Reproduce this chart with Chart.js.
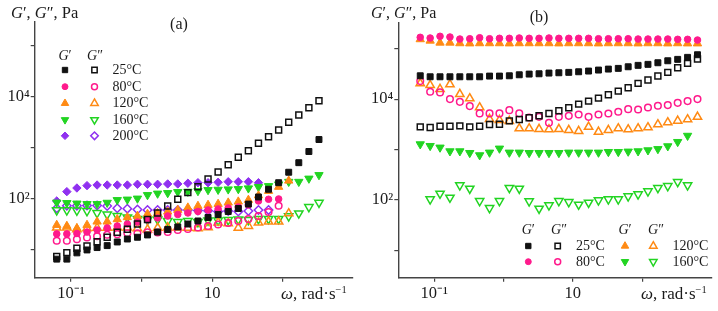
<!DOCTYPE html>
<html><head><meta charset="utf-8">
<script src="https://cdn.jsdelivr.net/npm/chart.js@4.4.1/dist/chart.umd.min.js"></script>
<style>
html,body{margin:0;padding:0;background:#fff;width:718px;height:311px;overflow:hidden;}
#wrap{position:relative;width:718px;height:311px;}
canvas{position:absolute;top:0;}
#ca{left:0;} #cb{left:359px;}
.t{position:absolute;font-family:"Liberation Serif","Times New Roman",serif;color:#1a1a1a;white-space:nowrap;line-height:1;transform:translate(0,-50%);}
.c{transform:translate(-50%,-50%);}
.lg{font-size:14px;}
sup{font-size:0.62em;vertical-align:0.5em;line-height:0;}
</style></head>
<body><div id="wrap">
<canvas id="ca" width="359" height="311"></canvas>
<canvas id="cb" width="359" height="311"></canvas>

<div class="t" style="left:11px;top:13px;font-size:16.5px"><i>G</i>′, <i>G</i>″, Pa</div>
<div class="t c" style="left:179px;top:24px;font-size:16px">(a)</div>
<div class="t" style="left:281px;top:293px;font-size:17px"><i>ω</i>, rad·s<sup>−1</sup></div>

<div class="t" style="left:371px;top:12.5px;font-size:16px"><i>G</i>′, <i>G</i>″, Pa</div>
<div class="t c" style="left:539px;top:17px;font-size:16px">(b)</div>
<div class="t" style="left:641px;top:293px;font-size:17px"><i>ω</i>, rad·s<sup>−1</sup></div>

<!-- legend (a) -->
<div class="t c lg" style="left:65px;top:55.5px"><i>G</i>′</div>
<div class="t c lg" style="left:95px;top:55.5px"><i>G</i>″</div>
<div class="t lg" style="left:112.5px;top:70px">25°C</div>
<div class="t lg" style="left:112.5px;top:86.7px">80°C</div>
<div class="t lg" style="left:112.5px;top:103.3px">120°C</div>
<div class="t lg" style="left:112.5px;top:119.8px">160°C</div>
<div class="t lg" style="left:112.5px;top:135.8px">200°C</div>

<!-- legend (b) -->
<div class="t c lg" style="left:528.3px;top:229.5px"><i>G</i>′</div>
<div class="t c lg" style="left:559px;top:229.5px"><i>G</i>″</div>
<div class="t c lg" style="left:625px;top:229.5px"><i>G</i>′</div>
<div class="t c lg" style="left:656px;top:229.5px"><i>G</i>″</div>
<div class="t lg" style="left:576px;top:246px">25°C</div>
<div class="t lg" style="left:576px;top:261.7px">80°C</div>
<div class="t lg" style="left:672.5px;top:246px">120°C</div>
<div class="t lg" style="left:672.5px;top:261.7px">160°C</div>
</div>
<script>
// ---------- DATA ----------
// angular frequency, rad/s (7 points per decade)
const OMEGA = [0.0628, 0.0873, 0.1212, 0.1685, 0.2341, 0.3253, 0.452, 0.628, 0.873, 1.212, 1.685, 2.341, 3.253, 4.52, 6.28, 8.73, 12.12, 16.85, 23.41, 32.53, 45.2, 62.8, 87.3, 121.2, 168.5, 234.1, 325.3, 452.0, 628.0];

// panel (a)
const A_G1_25  = [6.4, 6.4, 8.5, 9.7, 10.8, 11.8, 13.9, 15.9, 17.2, 19.1, 21.8, 24.4, 27.4, 31.3, 35.9, 42, 48, 55, 63, 77, 106, 150, 202, 324, 499, 827, 1420];
const A_G2_25  = [7.2, 8.6, 10.5, 11.6, 14.1, 17.2, 21.5, 24.7, 31.3, 38.4, 51.5, 70.6, 95.6, 129, 169, 239, 328, 456, 637, 858, 1200, 1610, 2190, 3090, 4300, 5980, 8200];
const A_G1_80  = [20, 20, 20.4, 21.8, 23.9, 26.2, 28.6, 31.3, 34.3, 37.5, 41.1, 45, 48.1, 51.5, 55.1, 59, 61.7, 64.5, 67.5, 73.9, 88.5, 95.6, 96.9];
const A_G2_80  = [14.7, 14.7, 15.7, 17, 18, 19.3, 19.8, 20.6, 20.6, 21.5, 21.3, 21.8, 23.9, 25, 26.7, 28.6, 30.6, 32.8, 35.9, 39.3, 45, 53.9, 71.6];
const A_G1_120 = [29.9, 28.6, 25.8, 29.9, 34.8, 34.8, 38.7, 42.4, 45, 49.2, 50.8, 54.6, 59, 65.5, 70.6, 73.9, 77.3, 82, 85.8, 92.6, 113.5, 139, 167, 221];
const A_G2_120 = [26.5, 26.5, 24.7, 25.6, 26.2, 26.2, 26.7, 26.7, 25.6, 24.4, 26.2, 26.7, 26.7, 26.2, 25.8, 27, 33.5, 32.1, 26.2, 28.6, 33.2, 34.8, 34.8, 50.4];
const A_G1_160 = [82.7, 80.9, 79.1, 77.3, 77.3, 82, 92.6, 94.7, 99.1, 116, 124, 127, 133, 135, 139, 145.5, 147.5, 150, 152, 157, 167, 174, 188, 211, 211, 244, 286];
const A_G2_160 = [58.2, 58.2, 57.6, 56.4, 51.5, 48.1, 45, 42, 39.3, 37.5, 38.4, 35.9, 34.3, 35.9, 34.3, 36.7, 36.7, 37.5, 38.4, 37.5, 39.3, 39.3, 39.3, 44.4, 50.8, 67.5, 82];
const A_G1_200 = [88.5, 135, 159, 177, 182, 182, 182, 182, 188, 188, 188, 191, 191, 197, 202, 202, 206, 211, 211, 211, 202];
const A_G2_200 = [63.7, 71.6, 71.6, 72.3, 72.3, 70.6, 63.7, 62.5, 60.3, 59, 59, 59, 59, 59, 57.6, 57.1, 55.1, 56.4, 55.1, 56.4, 59, 59];

// panel (b)
const B_G1_25  = [29040, 27750, 27750, 27750, 27750, 27750, 27750, 28650, 28650, 29040, 30410, 31400, 31840, 32880, 33340, 33960, 34910, 36060, 37740, 39470, 40740, 43870, 46790, 48980, 52720, 57700, 61520, 67450, 76000];
const B_G2_25  = [2814, 2737, 2904, 2904, 2944, 2814, 2904, 3141, 3184, 3704, 3948, 4249, 4656, 5197, 5852, 6716, 7955, 9125, 10470, 12170, 14430, 16780, 20510, 23870, 28650, 33960, 41880, 51290, 62400];
const B_G1_80  = [168600, 163300, 176500, 171000, 155900, 158100, 165500, 158100, 161000, 161000, 163300, 161000, 161000, 163300, 161000, 161000, 161000, 161000, 158100, 158100, 158100, 158100, 155900, 155900, 155900, 155900, 153800, 153800, 148900];
const B_G2_80  = [22800, 13960, 13590, 10000, 8830, 7260, 5200, 5200, 5200, 6040, 5200, 4325, 4446, 3380, 4446, 4656, 4966, 4446, 4966, 5197, 5596, 6324, 6237, 6840, 7360, 7600, 8440, 9125, 10000];
const B_G1_120 = [153800, 144200, 131600, 131600, 128000, 127000, 128000, 128000, 128000, 127000, 128000, 128000, 128000, 128000, 127000, 128000, 128000, 128000, 127000, 128000, 128000, 128000, 127000, 128000, 128000, 127000, 128000, 127000, 127000];
const B_G2_120 = [20510, 18970, 15810, 19590, 12570, 10320, 6840, 4000, 3828, 3654, 2614, 2614, 2535, 2500, 2535, 2420, 2311, 2814, 2239, 2420, 2614, 2500, 2614, 2737, 3141, 3443, 3704, 3948, 4446];
const B_G1_160 = [1274, 1180, 1096, 925, 925, 856, 771, 871, 1047, 871, 871, 856, 856, 856, 856, 871, 871, 871, 871, 896, 896, 912, 925, 968, 1023, 1164, 1416, 1880];
const B_G2_160 = [null, 102.8, 133.4, 111.1, 195, 167.5, 95.1, 69, 95.1, 172.5, 167.5, 93.8, 67.1, 78.1, 95.1, 90.8, 80.7, 88.3, 98.2, 102.8, 102.8, 118, 129.2, 148.3, 172.5, 188.8, 227, 195];

const Y_TICKS = [10, 100, 1000, 10000, 100000];
const Y_LABELS = {100: '10²', 10000: '10⁴'};
const X_TICKS = [0.1, 1, 10, 100];
const X_LABELS = {0.1: '10⁻¹', 10: '10'};
const TEMPS_A = ['25°C', '80°C', '120°C', '160°C', '200°C'];

// ---------- STYLE ----------
const STYLE = {
  '25°C':  {color: '#111111', shape: 'rect',     r: 4.2, rot: 0},
  '80°C':  {color: '#ff1a8c', shape: 'circle',   r: 3.3, rot: 0},
  '120°C': {color: '#ff8a14', shape: 'triangle', r: 4.8, rot: 0},
  '160°C': {color: '#22d422', shape: 'triangle', r: 4.8, rot: 180},
  '200°C': {color: '#9030f0', shape: 'rectRot',  r: 4.2, rot: 0}
};
const FONT = '"Liberation Serif", "Times New Roman", serif';

function pts(arr) {
  const out = [];
  arr.forEach((v, i) => { if (v !== null && v !== undefined) out.push({x: OMEGA[i], y: v}); });
  return out;
}
function ds(temp, arr, filled) {
  const s = STYLE[temp];
  return {
    label: temp + (filled ? " G'" : ' G"'), data: pts(arr), showLine: false,
    pointStyle: s.shape, pointRadius: s.r, pointRotation: s.rot,
    pointBackgroundColor: filled ? s.color : 'rgba(255,255,255,0)',
    pointBorderColor: s.color, pointBorderWidth: filled ? 1 : 1.5, pointHoverRadius: s.r
  };
}
function sym(ctx, temp, x, y, filled, scale) {
  const s = STYLE[temp]; const r = s.r * scale;
  ctx.save(); ctx.translate(x, y); if (s.rot) ctx.rotate(s.rot * Math.PI / 180);
  ctx.beginPath();
  if (s.shape === 'rect') { const h = r * Math.SQRT1_2; ctx.rect(-h, -h, 2 * h, 2 * h); }
  else if (s.shape === 'circle') { ctx.arc(0, 0, r, 0, 2 * Math.PI); }
  else if (s.shape === 'triangle') {
    for (let k = 0; k < 3; k++) { const a = k * 2 * Math.PI / 3; const px = Math.sin(a) * r, py = -Math.cos(a) * r; k ? ctx.lineTo(px, py) : ctx.moveTo(px, py); }
    ctx.closePath();
  } else { ctx.moveTo(-r, 0); ctx.lineTo(0, -r); ctx.lineTo(r, 0); ctx.lineTo(0, r); ctx.closePath(); }
  ctx.strokeStyle = s.color; ctx.lineWidth = filled ? 1 : 1.5;
  if (filled) { ctx.fillStyle = s.color; ctx.fill(); }
  ctx.stroke(); ctx.restore();
}

function scales(xmin, xmax, ymin, ymax, yw) {
  const grid = {display: true, drawOnChartArea: false, drawTicks: true, tickLength: 4, color: '#444', lineWidth: 1.2};
  const border = {display: true, color: '#444', width: 1.4};
  return {
    x: {type: 'logarithmic', min: xmin, max: xmax, bounds: 'data',
        afterBuildTicks: s => { s.ticks = X_TICKS.map(v => ({value: v})); },
        afterFit: s => { s.height = 33.3; },
        ticks: {callback: v => X_LABELS[v] || '', font: {family: FONT, size: 16.5}, color: '#1a1a1a', padding: 2, autoSkip: false, maxRotation: 0},
        grid, border},
    y: {type: 'logarithmic', min: ymin, max: ymax, bounds: 'data',
        afterBuildTicks: s => { s.ticks = Y_TICKS.map(v => ({value: v})); },
        afterFit: s => { s.width = yw; },
        ticks: {callback: v => Y_LABELS[v] || '', font: {family: FONT, size: 16.5}, color: '#1a1a1a', padding: 1, autoSkip: false},
        grid, border}
  };
}
function legendPlugin(items) {
  return {id: 'lg', afterDraw(chart) {
    const ctx = chart.ctx;
    items.forEach(it => sym(ctx, it.t, it.x, it.y, it.f, 0.9));
  }};
}
const common = {responsive: false, animation: false, devicePixelRatio: 1, events: [],
  plugins: {legend: {display: false}, tooltip: {enabled: false}}};

// panel (a)
const dsA = [
  ds('25°C', A_G1_25, true), ds('25°C', A_G2_25, false),
  ds('80°C', A_G1_80, true), ds('80°C', A_G2_80, false),
  ds('120°C', A_G1_120, true), ds('120°C', A_G2_120, false),
  ds('160°C', A_G1_160, true), ds('160°C', A_G2_160, false),
  ds('200°C', A_G1_200, true), ds('200°C', A_G2_200, false)
];
const legA = [];
const rowsA = [70, 86.7, 103.3, 119.8, 135.8];
TEMPS_A.forEach((t, i) => { legA.push({t, x: 65, y: rowsA[i], f: true}); legA.push({t, x: 94.5, y: rowsA[i], f: false}); });
new Chart(document.getElementById('ca'), {
  type: 'scatter', data: {datasets: dsA},
  options: Object.assign({}, common, {
    layout: {padding: {left: 0, top: 22, right: 6.3, bottom: 0}},
    scales: scales(0.0306, 977, 2.77, 286400, 34.7)
  }),
  plugins: [legendPlugin(legA)]
});

// panel (b)
const dsB = [
  ds('25°C', B_G1_25, true), ds('25°C', B_G2_25, false),
  ds('80°C', B_G1_80, true), ds('80°C', B_G2_80, false),
  ds('120°C', B_G1_120, true), ds('120°C', B_G2_120, false),
  ds('160°C', B_G1_160, true), ds('160°C', B_G2_160, false)
];
const legB = [
  {t: '25°C', x: 528.3 - 359, y: 246, f: true}, {t: '25°C', x: 557.7 - 359, y: 246, f: false},
  {t: '80°C', x: 528.3 - 359, y: 261.7, f: true}, {t: '80°C', x: 557.7 - 359, y: 261.7, f: false},
  {t: '120°C', x: 625 - 359, y: 246, f: true}, {t: '120°C', x: 653.3 - 359, y: 246, f: false},
  {t: '160°C', x: 625 - 359, y: 261.7, f: true}, {t: '160°C', x: 653.3 - 359, y: 261.7, f: false}
];
new Chart(document.getElementById('cb'), {
  type: 'scatter', data: {datasets: dsB},
  options: Object.assign({}, common, {
    layout: {padding: {left: 0, top: 23, right: 6.3, bottom: 0}},
    scales: scales(0.0303, 1007, 2.85, 324400, 39.3)
  }),
  plugins: [legendPlugin(legB)]
});
</script>
</body></html>
